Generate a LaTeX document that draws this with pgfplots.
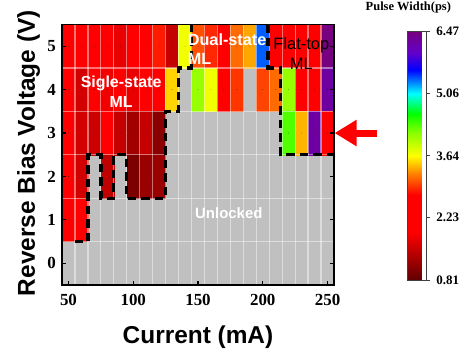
\documentclass[border=0pt]{standalone}
\usepackage{pgfplots}
\pgfplotsset{compat=1.18}
\usepackage{pgfplotstable}
\usetikzlibrary{arrows.meta,calc}
\usepackage{fontspec}
\setmainfont{Liberation Sans}
\newfontfamily\tnr{Liberation Serif}
\definecolor{unl}{RGB}{192,192,192}

\pgfplotstableread{
x y w
50 5 2.3
60 5 2.1
70 5 2.3
80 5 2.2
90 5 1.75
100 5 2.3
110 5 2.05
120 5 2.85
130 5 1.5
140 5 3.7
150 5 3.05
160 5 2.9
170 5 2.3
180 5 3.15
190 5 3.35
200 5 5.4
210 5 2.3
220 5 2.3
230 5 2.3
240 5 2.3
250 5 6.47
50 4 2.3
60 4 1.6
70 4 2.3
80 4 1.8
90 4 2.3
100 4 1.75
110 4 2.2
120 4 2.3
130 4 3.5
150 4 4.1
160 4 3.7
170 4 2.3
180 4 2.95
200 4 3.0
210 4 3.15
220 4 4.1
230 4 2.3
240 4 2.3
250 4 6.25
50 3 2.3
60 3 1.6
70 3 1.55
80 3 2.3
90 3 1.5
100 3 1.25
110 3 1.5
120 3 1.1
220 3 4.35
230 3 3.4
240 3 6.25
250 3 2.3
50 2 2.3
60 2 1.6
80 2 1.45
100 2 1.0
110 2 1.2
120 2 1.2
50 1 2.3
60 1 2.3
}\cells

\begin{document}
\begin{tikzpicture}
\begin{axis}[
  set layers,
  scale only axis, width=272bp, height=260.5bp,
  xmin=45, xmax=255, ymin=-0.5, ymax=5.5,
  axis on top,
  clip marker paths=true,
  axis background/.style={fill=unl},
  colormap={pw}{rgb255(0.81cm)=(96,0,0); rgb255(1.25cm)=(160,0,0); rgb255(1.9cm)=(255,0,0); rgb255(2.75cm)=(255,0,0); rgb255(3.2cm)=(255,120,0); rgb255(3.64cm)=(255,255,0); rgb255(4.2cm)=(128,255,0); rgb255(4.6cm)=(0,255,0); rgb255(5.06cm)=(0,255,255); rgb255(5.6cm)=(0,0,255); rgb255(6.0cm)=(100,0,200); rgb255(6.47cm)=(118,0,128)},
  point meta min=0.81, point meta max=6.47,
  xtick={50,100,150,200,250}, ytick={0,1,2,3,4,5},
  minor xtick={55,65,...,245}, minor ytick={0.5,1.5,...,4.5},
  xminorgrids, yminorgrids,
  minor grid style={white, opacity=0.45, line width=1.2bp},
  minor tick length=0pt,
  xtick pos=left, ytick pos=both,
  tick align=inside, major tick length=4bp,
  major tick style={black, line width=1.1bp},
  axis line style={black, line width=1.4bp},
  /pgf/number format/assume math mode=true,
  tick label style={font=\tnr\bfseries\fontsize{17}{17}\selectfont},
  xticklabel style={anchor=base, yshift=-20bp},
  yticklabel style={anchor=east, inner sep=0pt, xshift=-6bp},
  xlabel={Current (mA)},
  ylabel={Reverse Bias Voltage (V)},
  label style={font=\bfseries\fontsize{24.5}{29}\selectfont},
  xlabel style={at={(axis description cs:0.5,0)}, anchor=base, yshift=-58bp},
  ylabel style={at={(axis description cs:-0.0993,0.506)}, anchor=base, rotate=0},
  colorbar,
  colorbar style={
    at={(parent axis.north east)}, anchor=north west,
    xshift=65bp, yshift=-7.2bp,
    scale only axis, width=18.7bp, height=248.3bp,
    xlabel={}, ylabel={},
    grid=none, minor ytick={}, minor xtick={},
    axis on top,
    axis line style={black!75, line width=0.7bp},
    ytick={0.81,2.23,3.64,5.06,6.47},
    yticklabels={0.81,2.23,3.64,5.06,6.47},
    ytick pos=right, yticklabel pos=right,
    tick align=outside, major tick length=4bp,
    major tick style={black!75, line width=0.8bp},
    yticklabel style={font=\tnr\bfseries\fontsize{13}{13}\selectfont, anchor=west, inner sep=0pt, xshift=6bp},
    title={Pulse Width(ps)},
    title style={font=\tnr\bfseries\fontsize{12.5}{12.5}\selectfont, at={(0.5,1)}, anchor=base, inner sep=0pt, yshift=15.7bp, xshift=-8.5bp},
  },
]
\addplot[scatter, only marks, mark=*, mark size=0.01pt, point meta=explicit,
  scatter/use mapped color={draw=none, fill=mapped color},
  scatter/@pre marker code/.append code={%
    \fill[mapped color] (axis direction cs:-5,-0.5) rectangle (axis direction cs:5,0.5);%
  }]
  table[x=x, y=y, meta=w] {\cells};

\addplot[on layer=axis foreground, black, line width=3.3bp, dash pattern=on 8.5bp off 5bp, line cap=butt] coordinates {
  (55,0.5) (65,0.5) (65,2.5) (75,2.5) (75,1.5) (85,1.5) (85,2.5) (95,2.5) (95,1.5)
  (125,1.5) (125,3.5) (135,3.5) (135,4.5) (145,4.5) (145,5.5)};
\addplot[on layer=axis foreground, black, line width=3.3bp, dash pattern=on 8.5bp off 5bp, line cap=butt] coordinates {
  (204,5.5) (204,4.5) (213.8,4.5) (213.8,2.5) (255,2.5)};

\begin{pgfonlayer}{axis foreground}
\node[white, font=\bfseries\fontsize{16}{19.5}\selectfont, align=center] at (axis cs:90.6,3.95) {Sigle-state\\ML};
\node[white, font=\bfseries\fontsize{16.3}{19.5}\selectfont, align=left, anchor=west, inner sep=0pt] at (axis cs:142.0,4.93) {Dual-state\\ML};
\node[black, font=\fontsize{16.5}{20}\selectfont, align=center] at (axis cs:229.8,4.83) {Flat-top\\ML};
\node[white, font=\bfseries\fontsize{15}{18}\selectfont] at (axis cs:173.8,1.15) {Unlocked};
\end{pgfonlayer}

\coordinate (bl) at (rel axis cs:0,0);
\coordinate (ar) at (axis cs:255,3);
\end{axis}
\draw[red, line width=7bp, -{Triangle[length=22bp,width=25bp]}] ($(ar)+(43bp,0)$) -- ($(ar)+(0.6bp,0)$);
\pgfresetboundingbox
\useasboundingbox ($(bl)+(-62bp,-64bp)$) rectangle ($(bl)+(398bp,285bp)$);
\end{tikzpicture}
\end{document}
